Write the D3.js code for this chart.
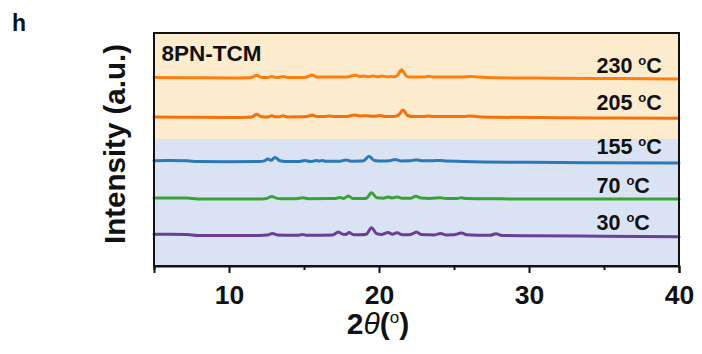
<!DOCTYPE html>
<html>
<head>
<meta charset="utf-8">
<script src="https://cdn.jsdelivr.net/npm/d3@7"></script>
<style>
  html, body { margin: 0; padding: 0; background: #fff; }
  svg { display: block; }
  text { font-family: "Liberation Sans", Arial, Helvetica, sans-serif; }
</style>
</head>
<body>
<svg id="chart" width="702" height="354"></svg>
<script>
// XRD patterns of 8PN-TCM recorded at increasing temperature (stacked, offset vertically)
// Each pattern: [2θ (deg), intensity above its own baseline (a.u.)]
const pattern30 = [
  [5,1.4],[6,1.5],[7.2,1.3],[7.9,0.3],[10,0.1],[12.0,0.3],[12.55,0.6],[12.9,2.3],[13.25,0.6],[14.0,0.4],
  [14.6,0.4],[14.9,1.3],[15.2,0.4],[16.0,0.5],[16.9,0.7],[17.3,3.8],[17.6,1.4],[17.8,1.3],[18.0,3.2],
  [18.3,1.0],[18.8,0.9],[19.15,1.4],[19.5,8.0],[19.85,1.9],[20.2,1.3],[20.6,3.2],[20.9,1.5],[21.2,3.0],
  [21.55,1.0],[22.0,0.9],[22.3,2.4],[22.5,3.6],[22.8,1.2],[23.2,1.0],[23.7,0.8],[24.1,2.2],[24.45,0.8],
  [25.0,0.9],[25.5,2.7],[25.85,0.9],[26.6,0.5],[27.4,0.4],[27.8,2.0],[28.2,0.3],[30,0.0],[35,-0.5],[40,-1.0]
];
const pattern70 = [
  [5,1.0],[6,1.1],[7.2,1.0],[7.9,0.1],[10,0.0],[12.2,0.1],[12.5,0.5],[12.85,2.6],[13.15,0.9],[13.5,0.3],
  [14.5,0.3],[14.9,1.2],[15.3,0.3],[16.5,0.4],[17.1,0.6],[17.4,1.4],[17.65,0.6],[17.95,3.0],[18.25,0.6],
  [19.0,0.5],[19.2,1.2],[19.5,6.3],[19.85,1.2],[20.3,0.8],[20.6,2.0],[20.9,1.0],[21.2,2.1],[21.55,0.7],
  [22.1,0.7],[22.45,2.8],[22.8,0.9],[23.4,0.6],[24.1,1.3],[24.45,0.5],[25.2,0.5],[25.5,1.2],[25.85,0.4],
  [27,0.3],[30,0.0],[35,0.0],[40,0.0]
];
const pattern155 = [
  [5,1.0],[6,1.1],[7.2,1.0],[7.9,0.1],[10,0.0],[12.0,0.2],[12.35,0.8],[12.6,2.6],[12.8,1.4],[13.07,4.2],
  [13.4,0.9],[13.8,0.3],[14.7,0.3],[15.07,1.2],[15.4,0.3],[15.6,0.4],[15.8,1.2],[16.0,0.6],[16.2,1.1],
  [16.5,0.4],[17.4,0.5],[17.8,1.6],[18.15,0.5],[18.9,0.6],[19.05,1.6],[19.33,5.4],[19.7,1.2],[20.2,0.6],
  [20.7,0.9],[21.07,2.2],[21.45,0.8],[22.1,0.9],[22.4,1.8],[22.6,1.6],[22.95,0.9],[23.5,0.9],[24.1,1.3],
  [24.5,0.6],[25.6,0.3],[27,-0.2],[30,-0.6],[35,-1.0],[40,-1.3]
];
const pattern205 = [
  [5,0.4],[7,0.3],[10,0.0],[11.3,0.3],[11.55,0.8],[11.85,3.3],[12.15,0.8],[12.6,0.6],[12.85,1.7],[13.1,0.7],
  [13.35,0.7],[13.6,1.8],[13.9,0.6],[15.0,0.7],[15.25,1.2],[15.55,2.6],[15.85,1.0],[16.4,1.1],[16.7,1.4],
  [17.0,1.0],[17.9,1.1],[18.1,1.8],[18.4,2.4],[18.75,1.5],[19.2,1.8],[19.6,1.2],[20.1,1.9],[20.4,1.0],
  [21.0,1.1],[21.3,2.4],[21.6,7.4],[21.9,2.0],[22.3,0.9],[23.0,0.9],[23.3,1.6],[23.6,0.9],[25.6,1.0],
  [26.1,1.6],[26.6,0.8],[28,0.2],[32,-0.2],[36,-0.5],[40,-0.8]
];
const pattern230 = [
  [5,0.4],[7,0.3],[10,0.0],[11.3,0.2],[11.55,0.7],[11.85,2.8],[12.15,0.7],[12.6,0.5],[12.85,1.6],[13.1,0.6],
  [13.35,0.6],[13.6,1.6],[13.9,0.5],[15.0,0.6],[15.25,1.3],[15.55,2.9],[15.85,1.0],[16.4,1.0],[17.2,1.0],
  [17.9,1.1],[18.1,1.8],[18.4,2.8],[18.75,1.5],[19.0,1.9],[19.3,1.2],[19.6,2.0],[19.9,1.2],[20.2,1.9],
  [20.5,1.3],[20.8,1.4],[21.05,1.2],[21.25,3.2],[21.5,8.2],[21.8,2.4],[22.05,0.9],[23.0,0.9],[23.3,1.8],
  [23.6,1.0],[25.6,1.1],[26.1,1.6],[26.6,1.0],[27.7,0.2],[32,-0.2],[36,-0.6],[40,-1.0]
];

const series    = [pattern30, pattern70, pattern155, pattern205, pattern230];
const labels    = ["30", "70", "155", "205", "230"];
const colors    = ["#6a3d9a", "#38a334", "#2a7ab8", "#f5700a", "#ff7f0e"];
const offsets   = [30.3, 67, 104.3, 148.5, 188];   // vertical stacking offset of each pattern
const labelLift = [6, 6.5, 7.5, 7.5, 5.5];          // label baseline above the pattern baseline

// background bands (a.u.): cooler phase below, heated phase above
const bands = [
  { from: 0,   to: 127, color: "#dae3f3" },
  { from: 127, to: 233, color: "#fdebcd" }
];

const xMajorTicks = [10, 20, 30, 40];
const xMinorTicks = [5, 15, 25, 35];

const svg = d3.select("#chart");
const margin = { left: 154, right: 23, top: 33, bottom: 88 };
const W = 702, H = 354;
const innerW = W - margin.left - margin.right;
const innerH = H - margin.top - margin.bottom;

const x = d3.scaleLinear().domain([5, 40]).range([0, innerW]);
const y = d3.scaleLinear().domain([0, 233]).range([innerH, 0]);

const g = svg.append("g").attr("transform", `translate(${margin.left},${margin.top})`);

g.selectAll("rect.band").data(bands).join("rect")
  .attr("class", "band")
  .attr("x", 0)
  .attr("width", innerW)
  .attr("y", d => y(d.to))
  .attr("height", d => y(d.from) - y(d.to))
  .attr("fill", d => d.color);

const line = d3.line()
  .x(d => x(d[0]))
  .y(d => y(d[1]))
  .curve(d3.curveMonotoneX);

series.forEach((pts, i) => {
  g.append("path")
    .datum(pts.map(p => [p[0], p[1] + offsets[i]]))
    .attr("fill", "none")
    .attr("stroke", colors[i])
    .attr("stroke-width", 3)
    .attr("stroke-linejoin", "round")
    .attr("stroke-linecap", "round")
    .attr("d", line);
});

// temperature labels
labels.forEach((t, i) => {
  const txt = g.append("text")
    .attr("x", x(34.5))
    .attr("y", y(offsets[i] + labelLift[i]))
    .attr("font-size", 21.5)
    .attr("font-weight", "bold")
    .attr("fill", "#111");
  txt.append("tspan").text(t + " ");
  txt.append("tspan").attr("font-size", 13).attr("dy", -8).text("o");
  txt.append("tspan").attr("dy", 8).text("C");
});

g.append("text")
  .attr("x", 7.5)
  .attr("y", 28)
  .attr("font-size", 22.5)
  .attr("font-weight", "bold")
  .attr("fill", "#111")
  .text("8PN-TCM");

// frame
g.append("rect")
  .attr("x", 0).attr("y", 0)
  .attr("width", innerW).attr("height", innerH)
  .attr("fill", "none")
  .attr("stroke", "#111")
  .attr("stroke-width", 2);

// x axis: major and minor ticks
const xAxis = g.append("g")
  .attr("transform", `translate(0,${innerH})`)
  .call(d3.axisBottom(x).tickValues(xMajorTicks).tickSize(7).tickPadding(12).tickFormat(d3.format("d")));
xAxis.select(".domain").attr("stroke", "#111").attr("stroke-width", 2);
xAxis.selectAll(".tick line").attr("stroke", "#111").attr("stroke-width", 2);
xAxis.selectAll(".tick text")
  .attr("font-size", 26.5)
  .attr("font-weight", "bold")
  .attr("fill", "#111")
  .style("font-family", "'Liberation Sans', Arial, sans-serif");

const xMinor = g.append("g")
  .attr("transform", `translate(0,${innerH})`)
  .call(d3.axisBottom(x).tickValues(xMinorTicks).tickSize(4).tickFormat(""));
xMinor.select(".domain").remove();
xMinor.selectAll(".tick line").attr("stroke", "#111").attr("stroke-width", 2);

// axis titles
const xt = svg.append("text")
  .attr("x", 378)
  .attr("y", 334)
  .attr("text-anchor", "middle")
  .attr("font-size", 30)
  .attr("font-weight", "bold")
  .attr("fill", "#111");
xt.append("tspan").text("2");
xt.append("tspan").attr("font-style", "italic").attr("font-weight", "normal").text("θ");
xt.append("tspan").text("(");
xt.append("tspan").attr("font-size", 17).attr("font-weight", "normal").attr("dy", -11).text("o");
xt.append("tspan").attr("dy", 11).text(")");

svg.append("text")
  .attr("transform", `translate(125,${144}) rotate(-90)`)
  .attr("text-anchor", "middle")
  .attr("font-size", 29.5)
  .attr("font-weight", "bold")
  .attr("fill", "#111")
  .text("Intensity (a.u.)");

svg.append("text")
  .attr("x", 12)
  .attr("y", 31)
  .attr("font-size", 23)
  .attr("font-weight", "bold")
  .attr("fill", "#111")
  .text("h");
</script>
</body>
</html>
